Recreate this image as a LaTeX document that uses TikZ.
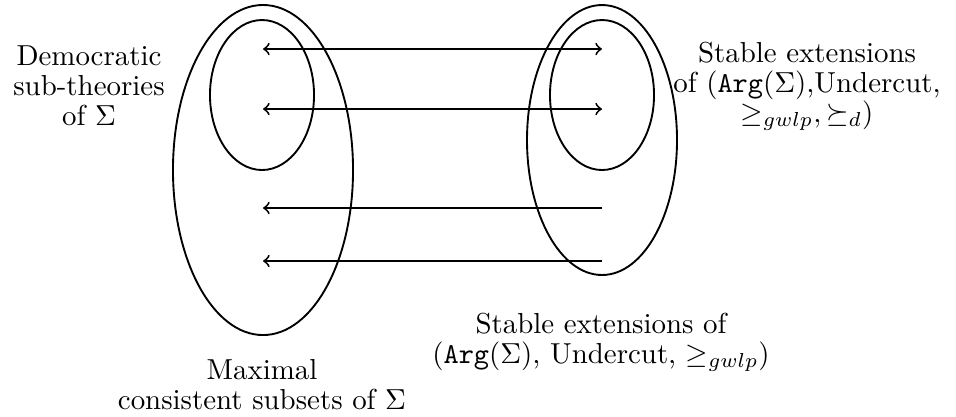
\documentclass[tikz,border=0pt]{standalone}
\usetikzlibrary{shapes.geometric}
\begin{document}
\begin{tikzpicture}[x=0.346pt,y=-0.346pt,
  set/.style={draw,ellipse,line width=0.65pt,inner sep=0pt},
  lab/.style={align=center,inner sep=0pt,font=\normalsize},
  conn/.style={line width=0.65pt}]
\useasboundingbox (0,0) rectangle (956,416);
% ellipses
\node[set,minimum width=62.3pt,minimum height=114.2pt] (mcs) at (263,170) {};
\node[set,minimum width=36pt,minimum height=51.9pt] (dem) at (262,95) {};
\node[set,minimum width=51.9pt,minimum height=93.4pt] (stab) at (602,140) {};
\node[set,minimum width=36pt,minimum height=51.9pt] (stabd) at (602,95) {};
% arrow end points
\coordinate (l1) at (263,49);  \coordinate (r1) at (602,49);
\coordinate (l2) at (263,109); \coordinate (r2) at (602,109);
\coordinate (l3) at (263,208); \coordinate (r3) at (602,208);
\coordinate (l4) at (263,261); \coordinate (r4) at (602,261);
\draw[conn,<->] (l1) -- (r1);
\draw[conn,<->] (l2) -- (r2);
\draw[conn,->] (r3) -- (l3);
\draw[conn,->] (r4) -- (l4);
% labels
\node[lab] (tdem) at (89,86) {Democratic\\[-1.6pt]sub-theories\\[-1.6pt]of $\Sigma$};
\node[lab] (tstabd) at (807,86) {Stable extensions\\[-1.6pt]of (\texttt{Arg}($\Sigma$),Undercut,\\[-1.6pt]$\geq_{gwlp},\succeq_d)$};
\node[lab] (tstab) at (601,342) {Stable extensions of\\[-1.6pt](\texttt{Arg}($\Sigma$), Undercut, $\geq_{gwlp}$)};
\node[lab] (tmcs) at (262,385) {Maximal\\[-1.6pt]consistent subsets of $\Sigma$};
\end{tikzpicture}
\end{document}
